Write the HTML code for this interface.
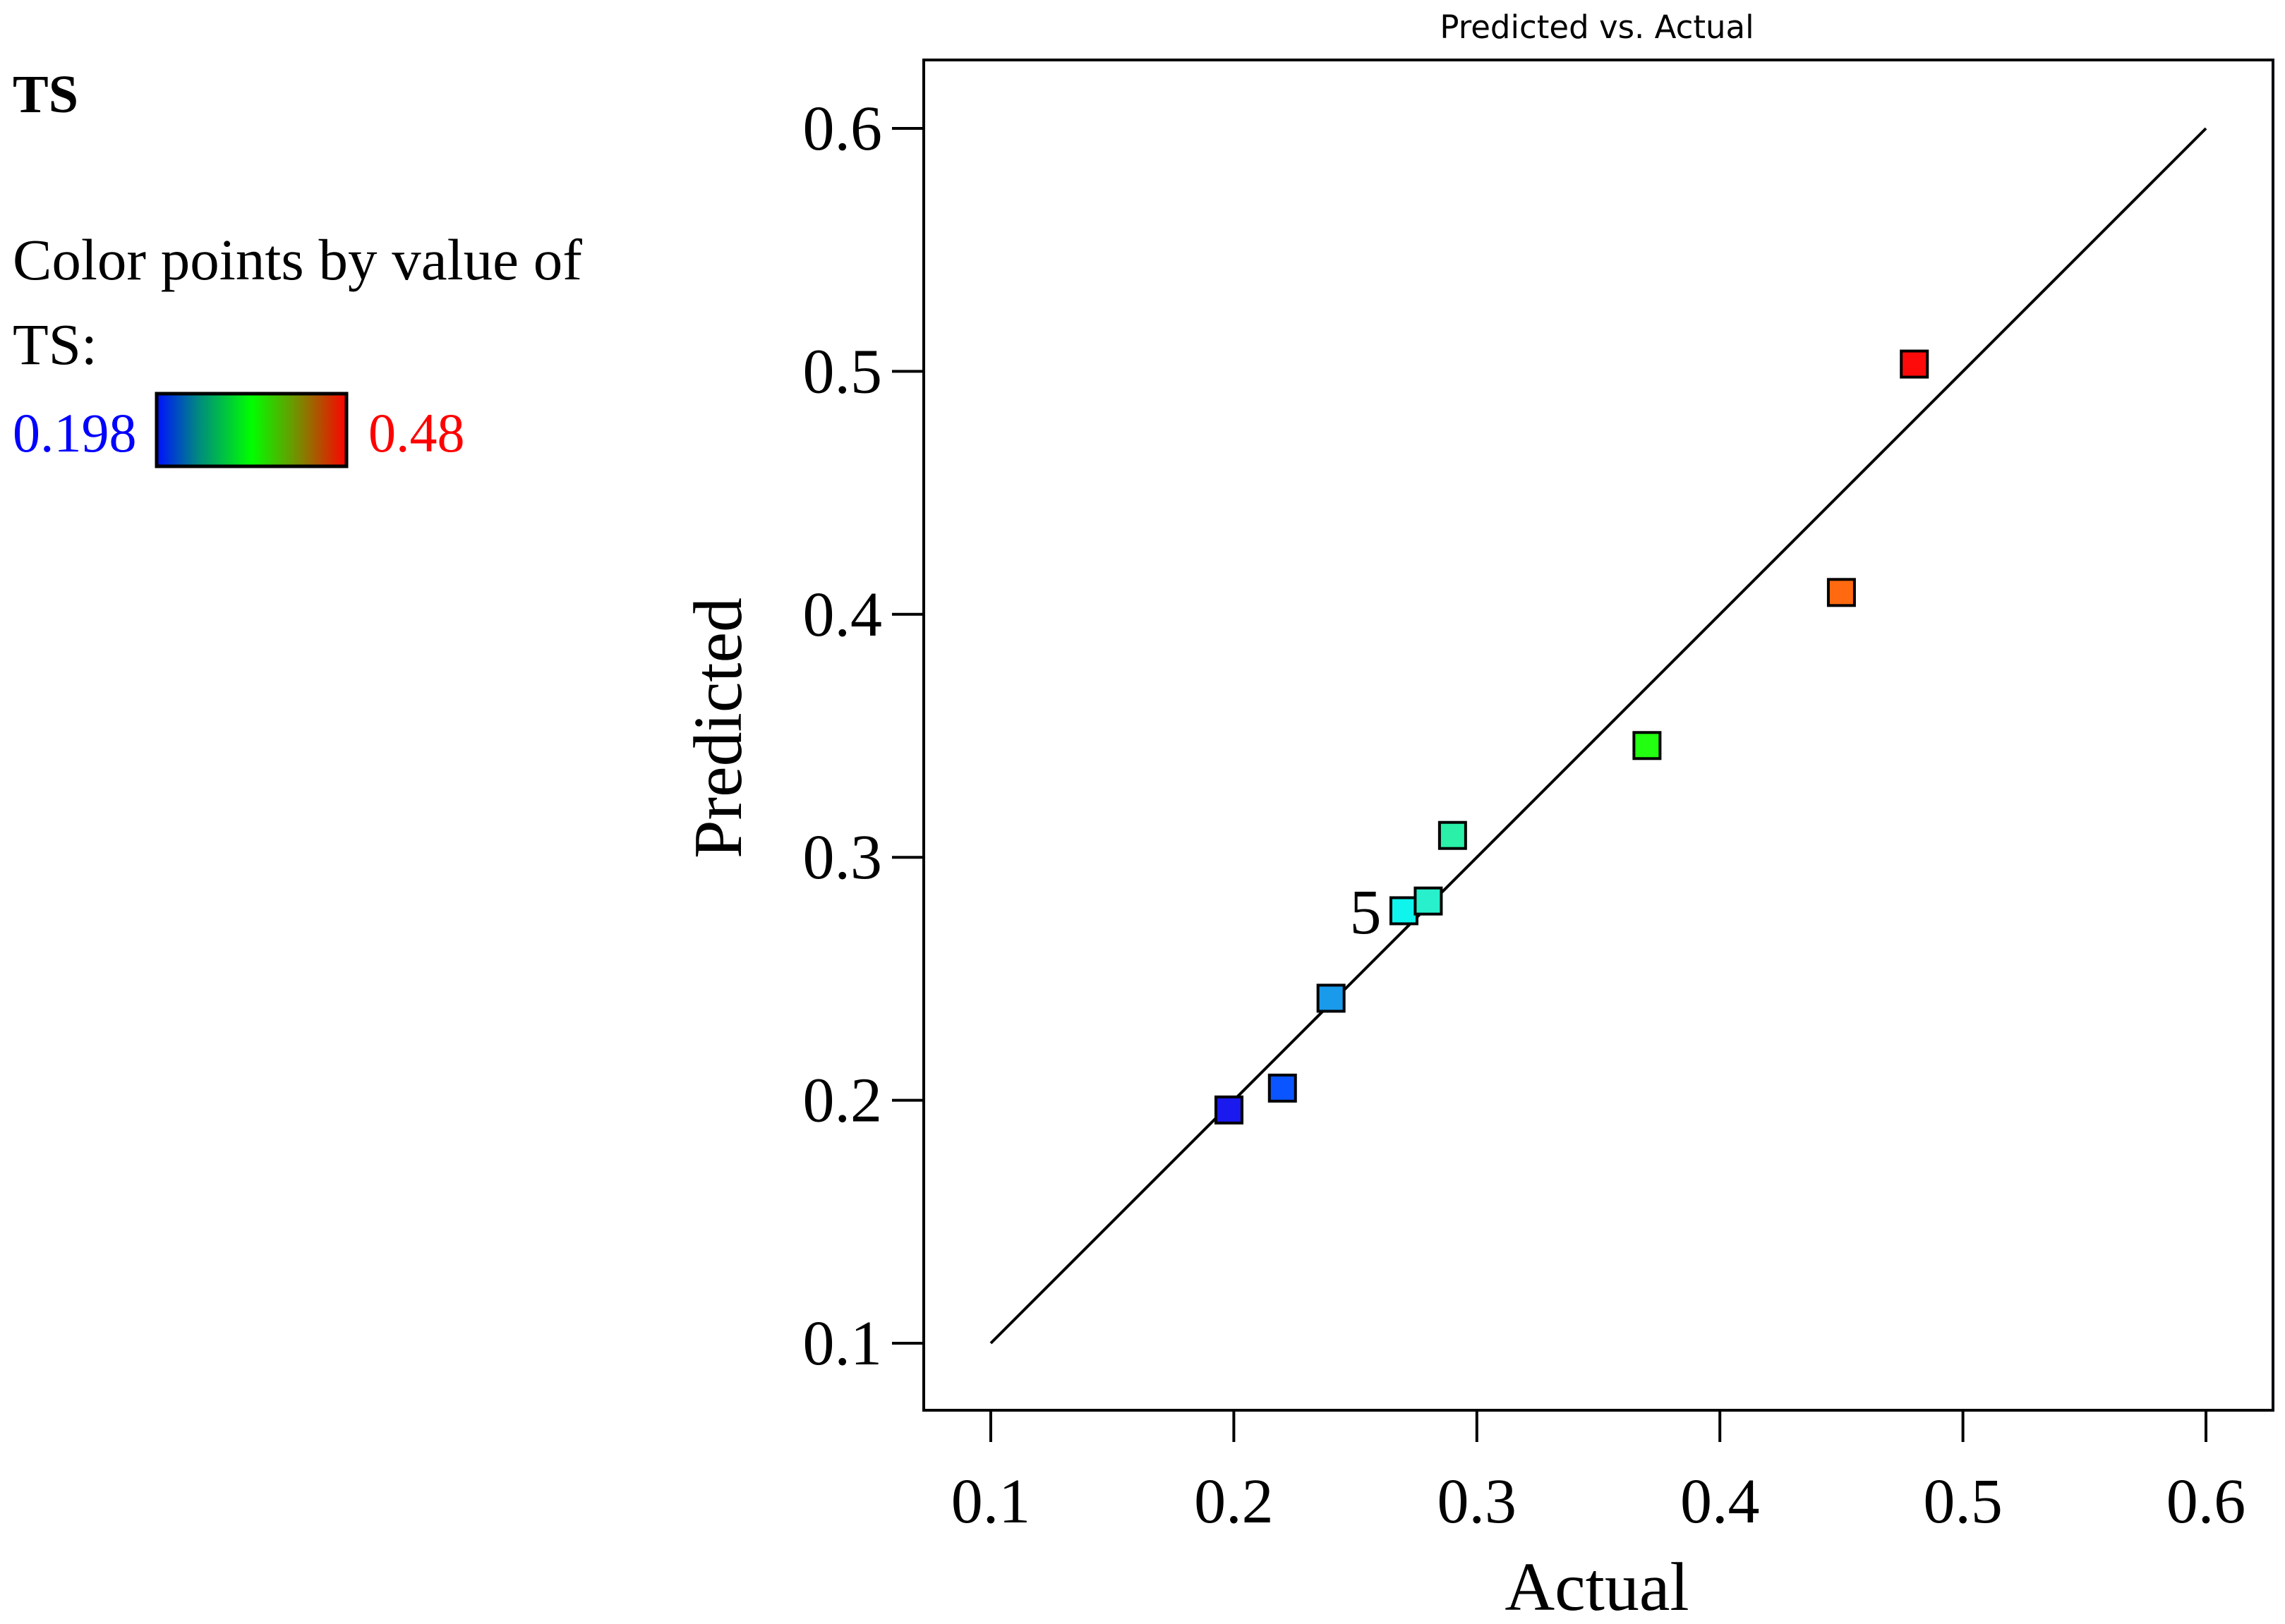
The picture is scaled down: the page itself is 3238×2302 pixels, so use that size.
<!DOCTYPE html>
<html><head><meta charset="utf-8"><style>
html,body{margin:0;padding:0;background:#fff;}
svg{display:block;}
</style></head><body>
<svg id="chart" width="3238" height="2302" xmlns="http://www.w3.org/2000/svg">
<defs><linearGradient id="grad" x1="0" x2="1" y1="0" y2="0">
<stop offset="0" stop-color="#0010ff"/><stop offset="0.22" stop-color="#008a80"/><stop offset="0.5" stop-color="#00ff00"/><stop offset="0.75" stop-color="#7a8a00"/><stop offset="1" stop-color="#ff0000"/></linearGradient></defs>
<g font-family="Liberation Serif, serif">
<text x="18" y="159" font-size="76" font-weight="bold">TS</text>
<text x="18" y="396" font-size="83">Color points by value of</text>
<text x="18" y="516" font-size="83">TS:</text>
<text x="18" y="640" font-size="78" fill="#0000ff">0.198</text>
<rect x="222" y="558" width="269" height="103" fill="url(#grad)" stroke="#000" stroke-width="5"/>
<text x="522" y="640" font-size="78" fill="#ff0000">0.48</text>
</g>
<text x="2263" y="54" font-size="45" text-anchor="middle" font-family="DejaVu Sans, sans-serif">Predicted vs. Actual</text>
<rect x="1309" y="85" width="1912" height="1914" fill="none" stroke="#000" stroke-width="4"/>
<g id="axes" font-family="Liberation Serif, serif" font-size="90"></g>
<text x="2263" y="2282" font-size="98" text-anchor="middle" font-family="Liberation Serif, serif">Actual</text>
<text transform="translate(1050,1032) rotate(-90)" font-size="98" text-anchor="middle" font-family="Liberation Serif, serif">Predicted</text>
<g id="marks"></g>
</svg>
<script>
const xTicks=[0.1,0.2,0.3,0.4,0.5,0.6];
const yTicks=[0.1,0.2,0.3,0.4,0.5,0.6];
const actual=[0.198,0.22,0.24,0.27,0.28,0.29,0.37,0.45,0.48];
const predicted=[0.196,0.205,0.242,0.278,0.282,0.309,0.346,0.409,0.503];
const pointColors=["#1a1aee","#0a55ff","#1a9aeb","#10f4ee","#28f0cc","#2af0a8","#22ff10","#ff6a10","#ff0a0a"];
const pointLabels=["","","","5","","","","",""];
const NS="http://www.w3.org/2000/svg";
function sx(v){return 1404+(v-0.1)*3444;}
function sy(v){return 1904-(v-0.1)*3444;}
function mk(tag,attrs,parent){const e=document.createElementNS(NS,tag);for(const k in attrs)e.setAttribute(k,attrs[k]);parent.appendChild(e);return e;}
const axes=document.getElementById('axes'),marks=document.getElementById('marks');
xTicks.forEach(t=>{
 const l=mk('line',{x1:sx(t),x2:sx(t),y1:1999,y2:2044,stroke:'#000','stroke-width':4},axes);
 
 
 const tx=mk('text',{x:sx(t),y:2158,'text-anchor':'middle'},axes);tx.textContent=t.toFixed(1);
 
 
});
yTicks.forEach(t=>{
 const l=mk('line',{x1:1264,x2:1309,y1:sy(t),y2:sy(t),stroke:'#000','stroke-width':4},axes);
 
 
 const tx=mk('text',{x:1250,y:sy(t)+30,'text-anchor':'end'},axes);tx.textContent=t.toFixed(1);
 
 
});
const diag=mk('line',{x1:sx(0.1),y1:sy(0.1),x2:sx(0.6),y2:sy(0.6),stroke:'#000','stroke-width':4},marks);


actual.forEach((a,i)=>{
 const s=37;
 const r=mk('rect',{x:sx(a)-s/2,y:sy(predicted[i])-s/2,width:s,height:s,fill:pointColors[i],stroke:'#000','stroke-width':4},marks);
 
 
 if(pointLabels[i]){
  const t=mk('text',{x:sx(a)-32,y:sy(predicted[i])+32,'text-anchor':'end','font-size':90,'font-family':'Liberation Serif, serif'},marks);
  t.textContent=pointLabels[i];
  
  
 }
});
</script>
</body></html>
